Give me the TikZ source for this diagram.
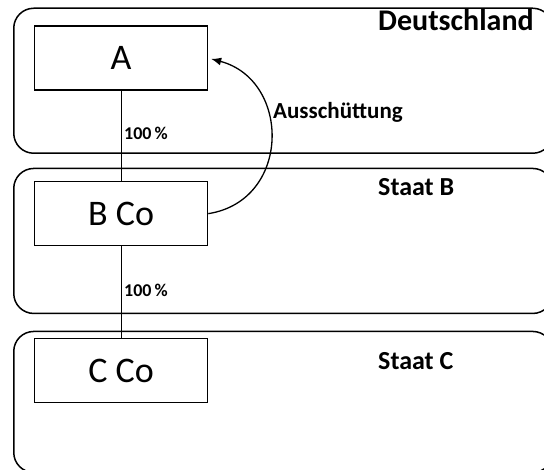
\documentclass[tikz,border=0pt]{standalone}
\usepackage{fontspec}
\setmainfont{Carlito}
\usetikzlibrary{arrows.meta,positioning,calc}

\tikzset{
  land/.style={draw,rectangle,rounded corners=20pt,line width=1.5pt,minimum width=539pt,anchor=north west,inner sep=0pt},
  firma/.style={draw,rectangle,line width=1.3pt,minimum width=173pt,minimum height=64pt,anchor=north west,inner sep=0pt,font=\fontsize{36}{42}\selectfont},
  landname/.style={anchor=base west,inner sep=0pt,font=\bfseries\fontsize{26}{31}\selectfont},
  anteil/.style={anchor=base west,inner sep=0pt,font=\bfseries\fontsize{18}{22}\selectfont},
  verbindung/.style={draw,line width=0.8pt},
}

\begin{document}
\begin{tikzpicture}[x=1pt,y=-1pt]

      \clip (0,0) rectangle (544,470);

      % Staaten
      \node[land,minimum height=145pt] at (13,7.5)   (de) {};
      \node[land,minimum height=145pt] at (13,167.7) (sb) {};
      \node[land,minimum height=141pt] at (13,330.7) (sc) {};

      \node[landname,font=\bfseries\fontsize{30}{36}\selectfont] at (378,31) (tde) {Deutschland};
      \node[landname] at (378,196) (tsb) {Staat B};
      \node[landname] at (378,370) (tsc) {Staat C};

      % Gesellschaften
      \node[firma] at (34,25.5) (a)   {A};
      \node[firma] at (34,181)  (bco) {B Co};
      \node[firma] at (34,338)  (cco) {C Co};

      % Beteiligungen
      \draw[verbindung] (a) -- (bco);
      \draw[verbindung] (bco) -- (cco);
      \node[anteil] at (124,140) (ab) {100\,\%};
      \node[anteil] at (124,297) (bc) {100\,\%};

      % Ausschuettung
      \draw[-{Latex[length=10pt,width=8pt]},line width=1.3pt,shorten >=3pt]
        (bco.east) .. controls +(83,-13) and +(83,22) .. (a.east);
      \node[anteil,font=\bfseries\fontsize{23}{28}\selectfont] at (273,119) (aus) {Ausschüttung};

\end{tikzpicture}
\end{document}
